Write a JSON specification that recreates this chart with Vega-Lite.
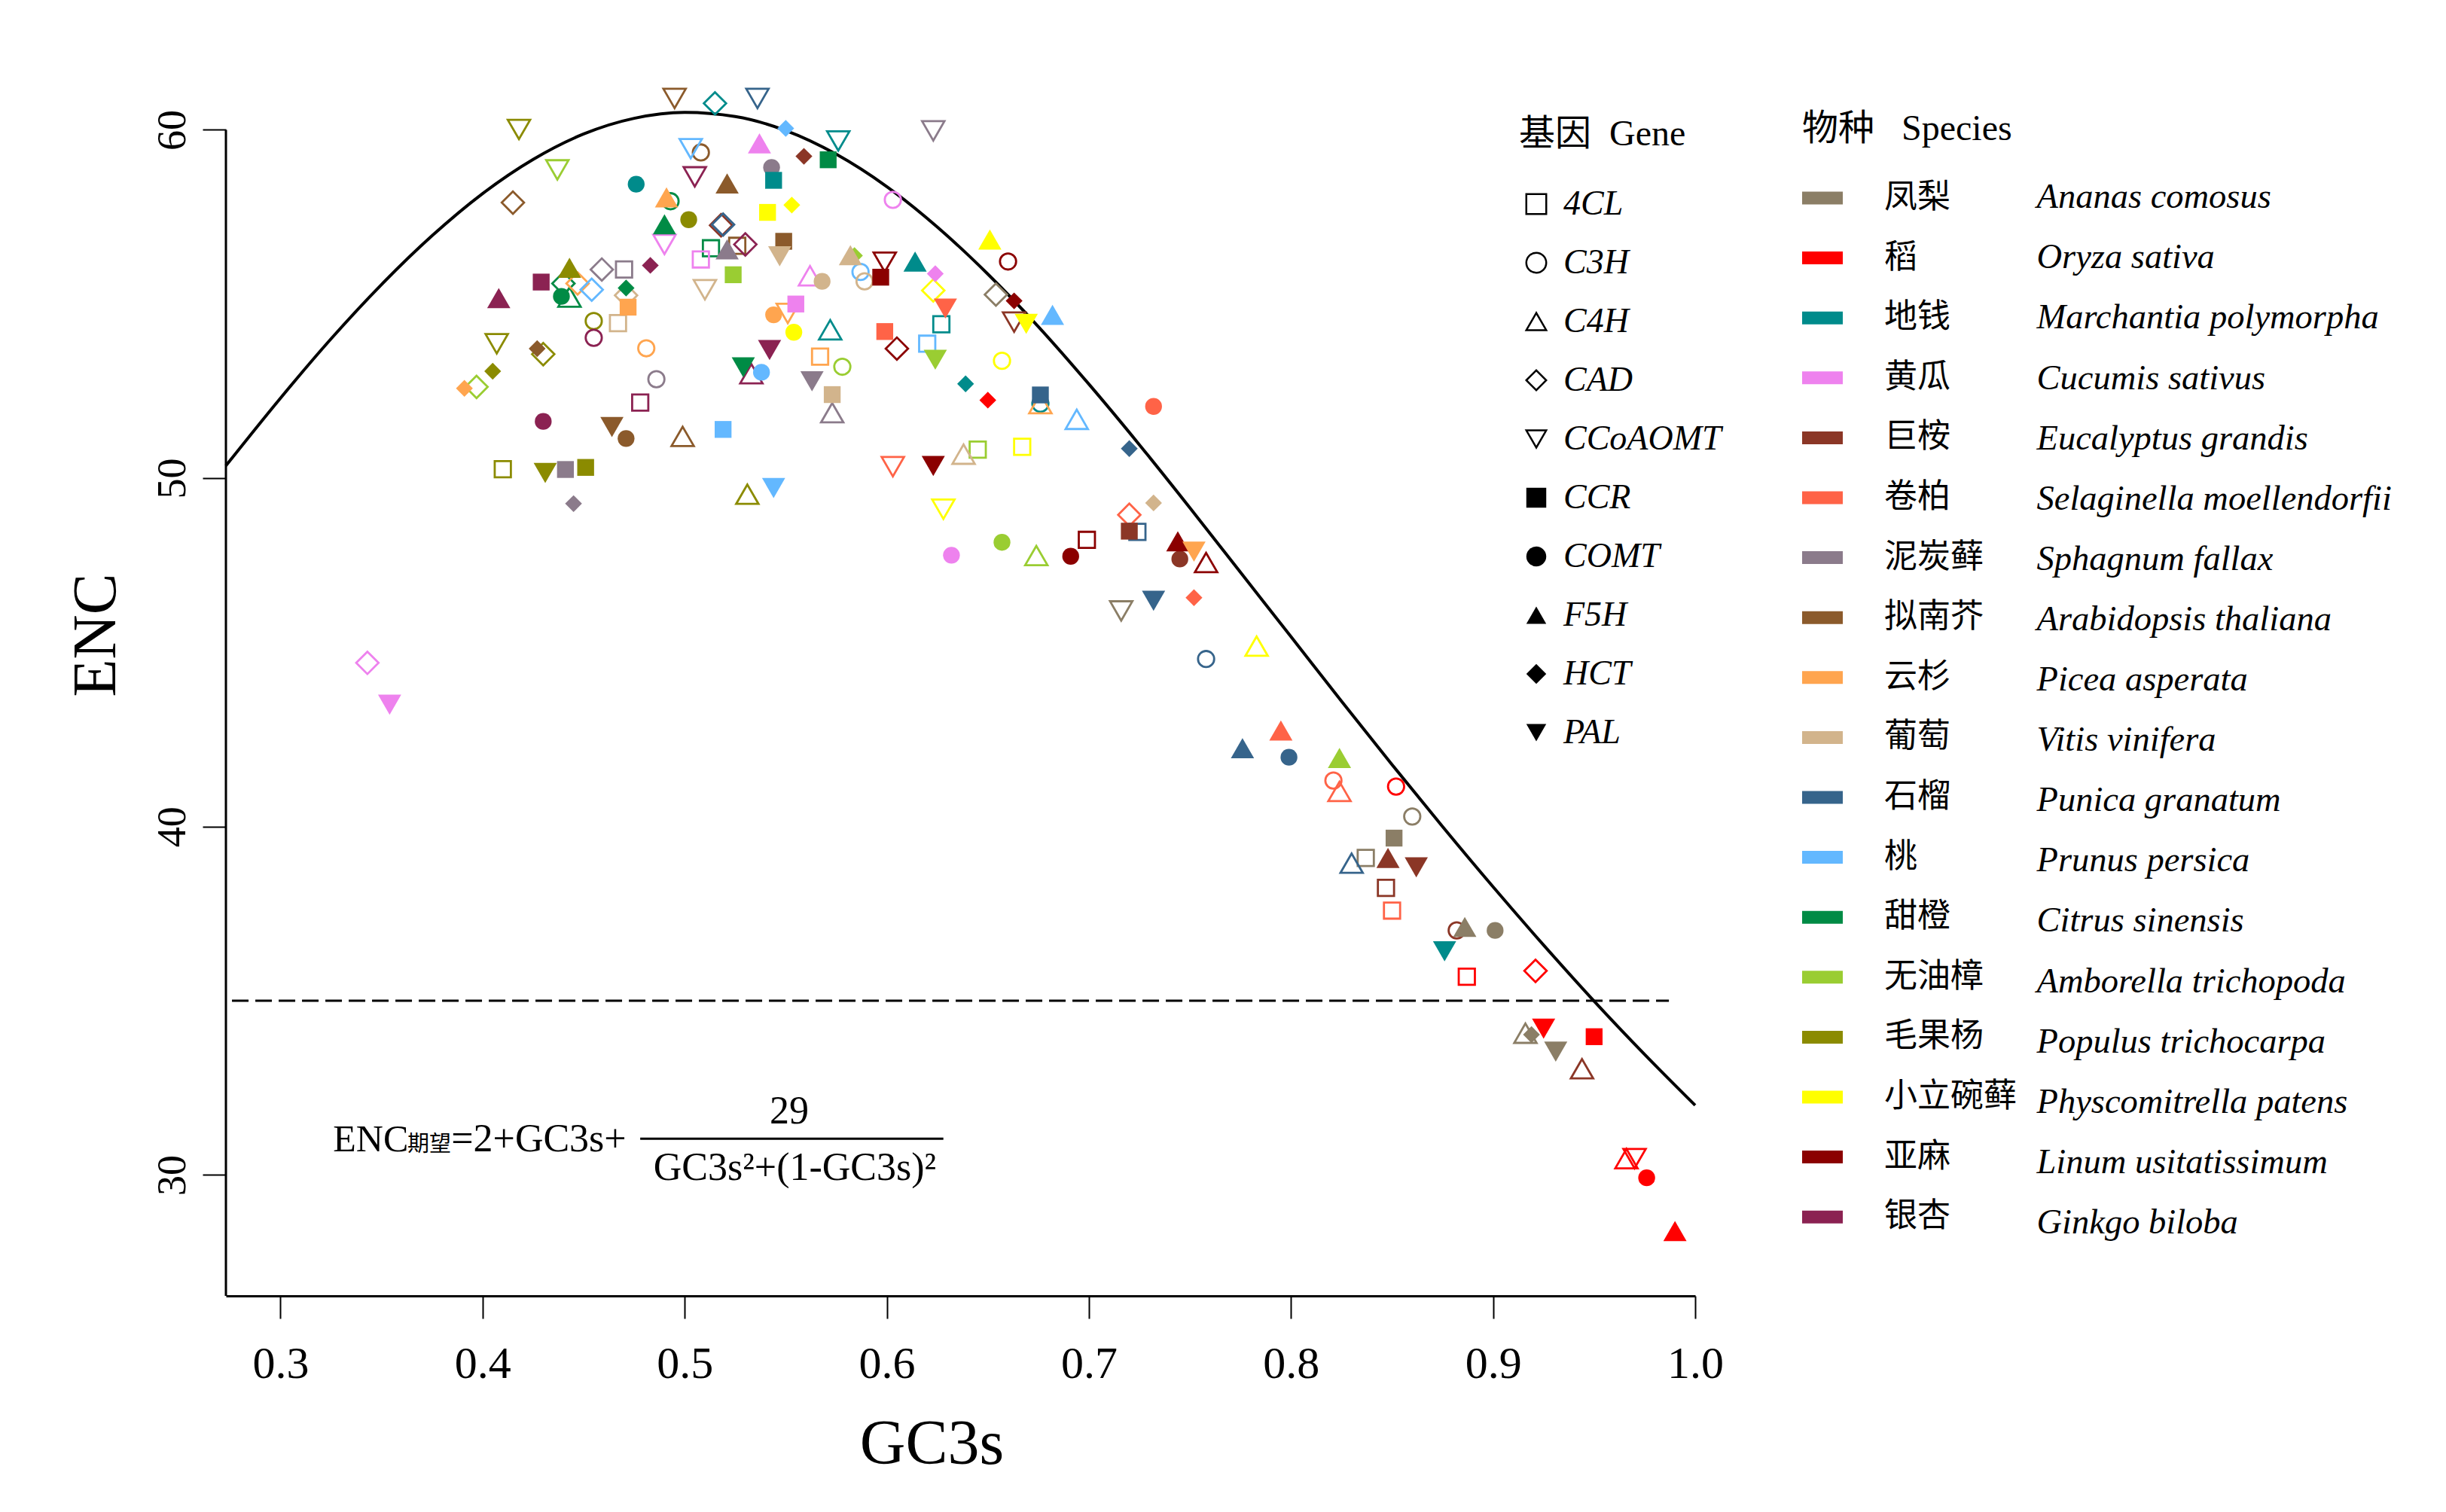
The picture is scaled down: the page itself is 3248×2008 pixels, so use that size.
{
"$schema": "https://vega.github.io/schema/vega-lite/v6.json",
"width": 1951, "height": 1618,
"autosize": {"type": "none"},
"padding": {"left": 300, "top": 103, "right": 997, "bottom": 287},
"background": "white",
"config": {"view": {"stroke": null}, "font": "Liberation Serif", "axis": {"grid": false}},
"resolve": {"scale": {"shape": "independent"}},
"datasets": {
"curve": [
{"x":0.273,"y":50.36},{"x":0.30,"y":52.30},{"x":0.325,"y":54.00},{"x":0.35,"y":55.56},{"x":0.375,"y":56.96},{"x":0.40,"y":58.17},{"x":0.425,"y":59.15},{"x":0.45,"y":59.88},{"x":0.475,"y":60.33},{"x":0.50,"y":60.50},{"x":0.525,"y":60.38},{"x":0.55,"y":59.98},{"x":0.575,"y":59.30},{"x":0.60,"y":58.37},{"x":0.625,"y":57.21},{"x":0.65,"y":55.86},{"x":0.675,"y":54.35},{"x":0.70,"y":52.70},{"x":0.725,"y":50.96},{"x":0.75,"y":49.15},{"x":0.775,"y":47.30},{"x":0.80,"y":45.45},{"x":0.825,"y":43.60},{"x":0.85,"y":41.78},{"x":0.875,"y":40.00},{"x":0.90,"y":38.27},{"x":0.925,"y":36.60},{"x":0.95,"y":34.99},{"x":0.975,"y":33.46},{"x":1.0,"y":32.00}
],
"species": [{"sp":"Ananas comosus","cn":"凤梨"},{"sp":"Oryza sativa","cn":"稻"},{"sp":"Marchantia polymorpha","cn":"地钱"},{"sp":"Cucumis sativus","cn":"黄瓜"},{"sp":"Eucalyptus grandis","cn":"巨桉"},{"sp":"Selaginella moellendorfii","cn":"卷柏"},{"sp":"Sphagnum fallax","cn":"泥炭藓"},{"sp":"Arabidopsis thaliana","cn":"拟南芥"},{"sp":"Picea asperata","cn":"云杉"},{"sp":"Vitis vinifera","cn":"葡萄"},{"sp":"Punica granatum","cn":"石榴"},{"sp":"Prunus persica","cn":"桃"},{"sp":"Citrus sinensis","cn":"甜橙"},{"sp":"Amborella trichopoda","cn":"无油樟"},{"sp":"Populus trichocarpa","cn":"毛果杨"},{"sp":"Physcomitrella patens","cn":"小立碗藓"},{"sp":"Linum usitatissimum","cn":"亚麻"},{"sp":"Ginkgo biloba","cn":"银杏"}],
"points": [
{"g":"CCoAOMT","sp":"Arabidopsis thaliana","x":0.495,"y":60.90},
{"g":"CAD","sp":"Marchantia polymorpha","x":0.515,"y":60.76},
{"g":"CCoAOMT","sp":"Punica granatum","x":0.536,"y":60.90},
{"g":"CCoAOMT","sp":"Populus trichocarpa","x":0.418,"y":60.01},
{"g":"HCT","sp":"Prunus persica","x":0.550,"y":60.04},
{"g":"F5H","sp":"Cucumis sativus","x":0.537,"y":59.61},
{"g":"CCoAOMT","sp":"Marchantia polymorpha","x":0.576,"y":59.68},
{"g":"CCoAOMT","sp":"Prunus persica","x":0.503,"y":59.46},
{"g":"C3H","sp":"Arabidopsis thaliana","x":0.508,"y":59.35},
{"g":"HCT","sp":"Eucalyptus grandis","x":0.559,"y":59.24},
{"g":"CCR","sp":"Citrus sinensis","x":0.571,"y":59.14},
{"g":"CCoAOMT","sp":"Amborella trichopoda","x":0.437,"y":58.85},
{"g":"COMT","sp":"Sphagnum fallax","x":0.543,"y":58.92},
{"g":"CCR","sp":"Marchantia polymorpha","x":0.544,"y":58.55},
{"g":"CCoAOMT","sp":"Ginkgo biloba","x":0.505,"y":58.65},
{"g":"COMT","sp":"Marchantia polymorpha","x":0.476,"y":58.44},
{"g":"F5H","sp":"Arabidopsis thaliana","x":0.521,"y":58.46},
{"g":"F5H","sp":"Picea asperata","x":0.491,"y":58.06},
{"g":"C3H","sp":"Citrus sinensis","x":0.493,"y":57.95},
{"g":"CCR","sp":"Physcomitrella patens","x":0.541,"y":57.63},
{"g":"HCT","sp":"Physcomitrella patens","x":0.553,"y":57.84},
{"g":"CCR","sp":"Arabidopsis thaliana","x":0.549,"y":56.80},
{"g":"PAL","sp":"Vitis vinifera","x":0.547,"y":56.37},
{"g":"COMT","sp":"Populus trichocarpa","x":0.502,"y":57.42},
{"g":"F5H","sp":"Citrus sinensis","x":0.490,"y":57.29},
{"g":"CAD","sp":"Eucalyptus grandis","x":0.518,"y":57.26},
{"g":"CAD","sp":"Punica granatum","x":0.519,"y":57.28},
{"g":"CCoAOMT","sp":"Cucumis sativus","x":0.490,"y":56.71},
{"g":"4CL","sp":"Citrus sinensis","x":0.513,"y":56.60},
{"g":"F5H","sp":"Sphagnum fallax","x":0.521,"y":56.57},
{"g":"4CL","sp":"Arabidopsis thaliana","x":0.526,"y":56.67},
{"g":"CAD","sp":"Ginkgo biloba","x":0.530,"y":56.71},
{"g":"4CL","sp":"Cucumis sativus","x":0.508,"y":56.28},
{"g":"F5H","sp":"Vitis vinifera","x":0.582,"y":56.40},
{"g":"HCT","sp":"Amborella trichopoda","x":0.584,"y":56.39},
{"g":"CCR","sp":"Amborella trichopoda","x":0.524,"y":55.84},
{"g":"F5H","sp":"Populus trichocarpa","x":0.443,"y":56.04},
{"g":"CCR","sp":"Ginkgo biloba","x":0.429,"y":55.63},
{"g":"F5H","sp":"Ginkgo biloba","x":0.408,"y":55.17},
{"g":"CAD","sp":"Citrus sinensis","x":0.440,"y":55.59},
{"g":"COMT","sp":"Citrus sinensis","x":0.439,"y":55.22},
{"g":"C4H","sp":"Citrus sinensis","x":0.443,"y":55.20},
{"g":"CAD","sp":"Picea asperata","x":0.447,"y":55.59},
{"g":"CAD","sp":"Sphagnum fallax","x":0.459,"y":55.99},
{"g":"CAD","sp":"Prunus persica","x":0.454,"y":55.41},
{"g":"4CL","sp":"Sphagnum fallax","x":0.470,"y":55.99},
{"g":"HCT","sp":"Ginkgo biloba","x":0.483,"y":56.11},
{"g":"HCT","sp":"Citrus sinensis","x":0.471,"y":55.46},
{"g":"CAD","sp":"Vitis vinifera","x":0.471,"y":55.25},
{"g":"CCR","sp":"Picea asperata","x":0.472,"y":54.91},
{"g":"CCoAOMT","sp":"Vitis vinifera","x":0.510,"y":55.41},
{"g":"C4H","sp":"Cucumis sativus","x":0.562,"y":55.81},
{"g":"COMT","sp":"Vitis vinifera","x":0.568,"y":55.65},
{"g":"C3H","sp":"Prunus persica","x":0.587,"y":55.92},
{"g":"C3H","sp":"Vitis vinifera","x":0.589,"y":55.65},
{"g":"CCR","sp":"Cucumis sativus","x":0.555,"y":55.00},
{"g":"COMT","sp":"Picea asperata","x":0.544,"y":54.69},
{"g":"CCoAOMT","sp":"Picea asperata","x":0.551,"y":54.73},
{"g":"COMT","sp":"Physcomitrella patens","x":0.554,"y":54.19},
{"g":"C4H","sp":"Marchantia polymorpha","x":0.572,"y":54.26},
{"g":"4CL","sp":"Picea asperata","x":0.567,"y":53.49},
{"g":"C3H","sp":"Amborella trichopoda","x":0.578,"y":53.20},
{"g":"PAL","sp":"Ginkgo biloba","x":0.542,"y":53.68},
{"g":"PAL","sp":"Citrus sinensis","x":0.529,"y":53.18},
{"g":"C4H","sp":"Ginkgo biloba","x":0.533,"y":53.00},
{"g":"COMT","sp":"Prunus persica","x":0.538,"y":53.04},
{"g":"PAL","sp":"Sphagnum fallax","x":0.563,"y":52.78},
{"g":"CCR","sp":"Vitis vinifera","x":0.573,"y":52.40},
{"g":"CCoAOMT","sp":"Populus trichocarpa","x":0.407,"y":53.86},
{"g":"HCT","sp":"Arabidopsis thaliana","x":0.427,"y":53.72},
{"g":"CAD","sp":"Populus trichocarpa","x":0.430,"y":53.56},
{"g":"HCT","sp":"Populus trichocarpa","x":0.405,"y":53.07},
{"g":"C3H","sp":"Populus trichocarpa","x":0.455,"y":54.51},
{"g":"C3H","sp":"Ginkgo biloba","x":0.455,"y":54.03},
{"g":"4CL","sp":"Vitis vinifera","x":0.467,"y":54.45},
{"g":"C3H","sp":"Picea asperata","x":0.481,"y":53.73},
{"g":"C3H","sp":"Sphagnum fallax","x":0.486,"y":52.84},
{"g":"HCT","sp":"Picea asperata","x":0.391,"y":52.58},
{"g":"CAD","sp":"Amborella trichopoda","x":0.397,"y":52.62},
{"g":"CAD","sp":"Arabidopsis thaliana","x":0.415,"y":57.91},
{"g":"CCoAOMT","sp":"Sphagnum fallax","x":0.623,"y":59.97},
{"g":"C3H","sp":"Cucumis sativus","x":0.603,"y":57.99},
{"g":"F5H","sp":"Physcomitrella patens","x":0.651,"y":56.85},
{"g":"C3H","sp":"Linum usitatissimum","x":0.660,"y":56.22},
{"g":"CCoAOMT","sp":"Linum usitatissimum","x":0.599,"y":56.20},
{"g":"CCR","sp":"Linum usitatissimum","x":0.597,"y":55.77},
{"g":"F5H","sp":"Marchantia polymorpha","x":0.614,"y":56.22},
{"g":"HCT","sp":"Cucumis sativus","x":0.624,"y":55.87},
{"g":"CAD","sp":"Physcomitrella patens","x":0.623,"y":55.39},
{"g":"CAD","sp":"Ananas comosus","x":0.654,"y":55.27},
{"g":"HCT","sp":"Linum usitatissimum","x":0.663,"y":55.09},
{"g":"CCoAOMT","sp":"Eucalyptus grandis","x":0.663,"y":54.48},
{"g":"PAL","sp":"Physcomitrella patens","x":0.669,"y":54.43},
{"g":"F5H","sp":"Prunus persica","x":0.682,"y":54.69},
{"g":"PAL","sp":"Selaginella moellendorfii","x":0.629,"y":54.87},
{"g":"4CL","sp":"Marchantia polymorpha","x":0.627,"y":54.42},
{"g":"CCR","sp":"Selaginella moellendorfii","x":0.599,"y":54.21},
{"g":"CAD","sp":"Linum usitatissimum","x":0.605,"y":53.72},
{"g":"4CL","sp":"Prunus persica","x":0.620,"y":53.86},
{"g":"PAL","sp":"Amborella trichopoda","x":0.624,"y":53.40},
{"g":"C3H","sp":"Physcomitrella patens","x":0.657,"y":53.37},
{"g":"HCT","sp":"Marchantia polymorpha","x":0.639,"y":52.71},
{"g":"CCR","sp":"Punica granatum","x":0.676,"y":52.39},
{"g":"HCT","sp":"Oryza sativa","x":0.650,"y":52.24},
{"g":"C3H","sp":"Marchantia polymorpha","x":0.676,"y":52.14},
{"g":"C4H","sp":"Picea asperata","x":0.676,"y":52.14},
{"g":"C4H","sp":"Prunus persica","x":0.694,"y":51.69},
{"g":"COMT","sp":"Selaginella moellendorfii","x":0.732,"y":52.06},
{"g":"HCT","sp":"Punica granatum","x":0.720,"y":50.85},
{"g":"CCoAOMT","sp":"Selaginella moellendorfii","x":0.603,"y":50.33},
{"g":"PAL","sp":"Linum usitatissimum","x":0.623,"y":50.35},
{"g":"C4H","sp":"Vitis vinifera","x":0.638,"y":50.69},
{"g":"4CL","sp":"Amborella trichopoda","x":0.645,"y":50.82},
{"g":"4CL","sp":"Physcomitrella patens","x":0.667,"y":50.90},
{"g":"CCoAOMT","sp":"Physcomitrella patens","x":0.628,"y":49.11},
{"g":"HCT","sp":"Vitis vinifera","x":0.732,"y":49.29},
{"g":"CAD","sp":"Selaginella moellendorfii","x":0.720,"y":48.95},
{"g":"CCR","sp":"Eucalyptus grandis","x":0.720,"y":48.48},
{"g":"4CL","sp":"Punica granatum","x":0.724,"y":48.46},
{"g":"4CL","sp":"Linum usitatissimum","x":0.699,"y":48.23},
{"g":"COMT","sp":"Cucumis sativus","x":0.632,"y":47.79},
{"g":"COMT","sp":"Amborella trichopoda","x":0.657,"y":48.16},
{"g":"C4H","sp":"Amborella trichopoda","x":0.674,"y":47.78},
{"g":"COMT","sp":"Linum usitatissimum","x":0.691,"y":47.76},
{"g":"F5H","sp":"Linum usitatissimum","x":0.744,"y":48.19},
{"g":"PAL","sp":"Picea asperata","x":0.752,"y":47.89},
{"g":"COMT","sp":"Eucalyptus grandis","x":0.745,"y":47.68},
{"g":"C4H","sp":"Linum usitatissimum","x":0.758,"y":47.58},
{"g":"CCoAOMT","sp":"Ananas comosus","x":0.716,"y":46.19},
{"g":"PAL","sp":"Punica granatum","x":0.732,"y":46.48},
{"g":"HCT","sp":"Selaginella moellendorfii","x":0.752,"y":46.57},
{"g":"C3H","sp":"Punica granatum","x":0.758,"y":44.81},
{"g":"C4H","sp":"Physcomitrella patens","x":0.783,"y":45.18},
{"g":"4CL","sp":"Ginkgo biloba","x":0.478,"y":52.17},
{"g":"COMT","sp":"Ginkgo biloba","x":0.430,"y":51.63},
{"g":"PAL","sp":"Arabidopsis thaliana","x":0.464,"y":51.47},
{"g":"COMT","sp":"Arabidopsis thaliana","x":0.471,"y":51.14},
{"g":"C4H","sp":"Arabidopsis thaliana","x":0.499,"y":51.20},
{"g":"CCR","sp":"Prunus persica","x":0.519,"y":51.40},
{"g":"C4H","sp":"Sphagnum fallax","x":0.573,"y":51.88},
{"g":"4CL","sp":"Populus trichocarpa","x":0.410,"y":50.26},
{"g":"PAL","sp":"Populus trichocarpa","x":0.431,"y":50.15},
{"g":"CCR","sp":"Sphagnum fallax","x":0.441,"y":50.25},
{"g":"CCR","sp":"Populus trichocarpa","x":0.451,"y":50.31},
{"g":"HCT","sp":"Sphagnum fallax","x":0.445,"y":49.27},
{"g":"C4H","sp":"Populus trichocarpa","x":0.531,"y":49.54},
{"g":"PAL","sp":"Prunus persica","x":0.544,"y":49.72},
{"g":"CAD","sp":"Cucumis sativus","x":0.343,"y":44.70},
{"g":"PAL","sp":"Cucumis sativus","x":0.354,"y":43.50},
{"g":"F5H","sp":"Selaginella moellendorfii","x":0.795,"y":42.76},
{"g":"F5H","sp":"Punica granatum","x":0.776,"y":42.25},
{"g":"COMT","sp":"Punica granatum","x":0.799,"y":41.99},
{"g":"F5H","sp":"Amborella trichopoda","x":0.824,"y":41.97},
{"g":"C3H","sp":"Selaginella moellendorfii","x":0.821,"y":41.32},
{"g":"C4H","sp":"Selaginella moellendorfii","x":0.824,"y":41.01},
{"g":"C3H","sp":"Oryza sativa","x":0.852,"y":41.15},
{"g":"C3H","sp":"Ananas comosus","x":0.860,"y":40.29},
{"g":"CCR","sp":"Ananas comosus","x":0.851,"y":39.67},
{"g":"C4H","sp":"Punica granatum","x":0.830,"y":38.95},
{"g":"4CL","sp":"Ananas comosus","x":0.837,"y":39.10},
{"g":"F5H","sp":"Eucalyptus grandis","x":0.848,"y":39.10},
{"g":"PAL","sp":"Eucalyptus grandis","x":0.862,"y":38.83},
{"g":"4CL","sp":"Eucalyptus grandis","x":0.847,"y":38.24},
{"g":"4CL","sp":"Selaginella moellendorfii","x":0.850,"y":37.59},
{"g":"F5H","sp":"Ananas comosus","x":0.886,"y":37.12},
{"g":"C3H","sp":"Eucalyptus grandis","x":0.882,"y":37.02},
{"g":"COMT","sp":"Ananas comosus","x":0.901,"y":37.02},
{"g":"PAL","sp":"Marchantia polymorpha","x":0.876,"y":36.42},
{"g":"4CL","sp":"Oryza sativa","x":0.887,"y":35.69},
{"g":"CAD","sp":"Oryza sativa","x":0.921,"y":35.86},
{"g":"C4H","sp":"Ananas comosus","x":0.916,"y":34.07},
{"g":"HCT","sp":"Ananas comosus","x":0.919,"y":34.03},
{"g":"PAL","sp":"Oryza sativa","x":0.925,"y":34.20},
{"g":"PAL","sp":"Ananas comosus","x":0.931,"y":33.54},
{"g":"CCR","sp":"Oryza sativa","x":0.950,"y":33.97},
{"g":"C4H","sp":"Eucalyptus grandis","x":0.944,"y":33.05},
{"g":"C4H","sp":"Oryza sativa","x":0.966,"y":30.47},
{"g":"CCoAOMT","sp":"Oryza sativa","x":0.970,"y":30.47},
{"g":"COMT","sp":"Oryza sativa","x":0.976,"y":29.92},
{"g":"F5H","sp":"Oryza sativa","x":0.990,"y":28.39}
]
},
"layer": [
{
"data": {"name": "curve"},
"mark": {"type": "line", "color": "black", "strokeWidth": 4, "interpolate": "monotone"},
"encoding": {
"x": {"field": "x", "type": "quantitative", "scale": {"domain": [0.273, 1.0], "nice": false, "zero": false},
 "axis": {"title": "GC3s", "values": [0.3,0.4,0.5,0.6,0.7,0.8,0.9,1.0], "format": ".1f", "labelFont": "Liberation Serif", "labelFontSize": 60, "labelColor": "black", "labelBaseline": "alphabetic", "labelPadding": 78, "labelFlush": false, "labelOverlap": false, "tickSize": 30, "tickWidth": 2, "tickColor": "black", "domainColor": "black", "domainWidth": 3, "titleFont": "Liberation Serif", "titleFontSize": 84, "titleFontWeight": "normal", "titleColor": "black", "titleX": 937, "titleY": 222, "titleBaseline": "alphabetic", "titleAlign": "center", "grid": false}},
"y": {"field": "y", "type": "quantitative", "scale": {"domain": [26.53, 61.5], "nice": false, "zero": false},
 "axis": {"title": "ENC", "values": [30,40,50,60], "format": "d", "labelFont": "Liberation Serif", "labelFontSize": 54, "labelColor": "black", "labelAngle": 270, "labelAlign": "center", "labelBaseline": "alphabetic", "labelPadding": 24, "labelFlush": false, "labelOverlap": false, "tickSize": 31, "tickWidth": 2, "tickColor": "black", "domain": false, "titleFont": "Liberation Serif", "titleFontSize": 82, "titleFontWeight": "normal", "titleColor": "black", "titleX": -148, "titleY": 740, "titleAngle": 270, "titleAlign": "center", "titleBaseline": "alphabetic", "grid": false}}
}
},
{
"data": {"values": [{}]},
"mark": {"type": "rule", "color": "black", "strokeWidth": 3},
"encoding": {"x": {"datum": 0.273}, "y": {"datum": 26.53}, "y2": {"datum": 60}}
},
{
"data": {"values": [{}]},
"mark": {"type": "rule", "color": "black", "strokeWidth": 3, "strokeDash": [22, 9]},
"encoding": {"x": {"datum": 0.276}, "x2": {"datum": 0.987}, "y": {"datum": 35}}
},
{
"layer": [
{
"data": {"name": "points"},
"transform": [{"filter": {"field": "g", "oneOf": ["4CL", "C3H"]}}],
"mark": {"type": "point", "filled": false, "opacity": 1, "strokeWidth": 2.8, "size": 460},
"encoding": {
"x": {"field": "x", "type": "quantitative", "title": "GC3s"},
"y": {"field": "y", "type": "quantitative", "title": "ENC"},
"shape": {"field": "g", "type": "nominal", "scale": {"domain": ["4CL","C3H","C4H","CAD","CCoAOMT"], "range": ["square","circle","triangle-up","diamond","triangle-down"]},
 "legend": {"title": "基因\u00a0\u00a0Gene", "orient": "none", "legendX": 1717, "legendY": 52, "direction": "vertical", "padding": 0, "titleFont": "Liberation Serif, Noto Sans CJK SC", "titleFontSize": 48, "titleFontWeight": "normal", "titleColor": "black", "titlePadding": 45, "titleLimit": 800, "labelFont": "Liberation Serif", "labelFontStyle": "italic", "labelFontSize": 46, "labelColor": "black", "labelOffset": 13, "labelLimit": 800, "rowPadding": 32, "symbolSize": 700, "symbolStrokeColor": "black", "symbolFillColor": "transparent", "symbolStrokeWidth": 2.5, "symbolOpacity": 1}},
"stroke": {"field": "sp", "type": "nominal", "scale": {"domain": ["Ananas comosus","Oryza sativa","Marchantia polymorpha","Cucumis sativus","Eucalyptus grandis","Selaginella moellendorfii","Sphagnum fallax","Arabidopsis thaliana","Picea asperata","Vitis vinifera","Punica granatum","Prunus persica","Citrus sinensis","Amborella trichopoda","Populus trichocarpa","Physcomitrella patens","Linum usitatissimum","Ginkgo biloba"], "range": ["#8B7E66","#FF0000","#008B8B","#EE82EE","#8B3626","#FF6347","#8B7B8B","#8B5A2B","#FFA54F","#D2B48C","#36648B","#63B8FF","#008B45","#9ACD32","#8B8B00","#FFFF00","#8B0000","#8B2252"]},
 "legend": {"title": null, "orient": "none", "legendX": 2358, "legendY": 136, "direction": "vertical", "padding": 0, "symbolSize": 1, "symbolOpacity": 0, "symbolStrokeWidth": 0, "labelFont": "Liberation Serif", "labelFontStyle": "italic", "labelFontSize": 46.5, "labelColor": "black", "labelOffset": 0, "labelLimit": 900, "rowPadding": 33.1}}
}
},
{
"data": {"name": "points"},
"transform": [{"filter": {"field": "g", "oneOf": ["C4H", "CAD", "CCoAOMT"]}}],
"mark": {"type": "point", "filled": false, "opacity": 1, "strokeWidth": 2.8, "size": 880},
"encoding": {
"x": {"field": "x", "type": "quantitative", "title": "GC3s"},
"y": {"field": "y", "type": "quantitative", "title": "ENC"},
"shape": {"field": "g", "type": "nominal"},
"stroke": {"field": "sp", "type": "nominal"}
}
}
]
},
{
"layer": [
{
"data": {"name": "points"},
"transform": [{"filter": {"field": "g", "oneOf": ["CCR", "COMT", "HCT"]}}, {"lookup": "sp", "from": {"data": {"name": "species"}, "key": "sp", "fields": ["cn"]}}],
"mark": {"type": "point", "filled": true, "opacity": 1, "size": 500},
"encoding": {
"x": {"field": "x", "type": "quantitative", "title": "GC3s"},
"y": {"field": "y", "type": "quantitative", "title": "ENC"},
"shape": {"field": "g", "type": "nominal", "scale": {"domain": ["CCR","COMT","F5H","HCT","PAL"], "range": ["square","circle","triangle-up","diamond","triangle-down"]},
 "legend": {"title": null, "orient": "none", "legendX": 1717, "legendY": 535, "direction": "vertical", "padding": 0, "labelFont": "Liberation Serif", "labelFontStyle": "italic", "labelFontSize": 46, "labelColor": "black", "labelOffset": 13, "labelLimit": 800, "rowPadding": 32, "symbolSize": 700, "symbolStrokeColor": "black", "symbolFillColor": "black", "symbolStrokeWidth": 2.5, "symbolOpacity": 1}},
"fill": {"field": "cn", "type": "nominal", "scale": {"domain": ["凤梨","稻","地钱","黄瓜","巨桉","卷柏","泥炭藓","拟南芥","云杉","葡萄","石榴","桃","甜橙","无油樟","毛果杨","小立碗藓","亚麻","银杏"], "range": ["#8B7E66","#FF0000","#008B8B","#EE82EE","#8B3626","#FF6347","#8B7B8B","#8B5A2B","#FFA54F","#D2B48C","#36648B","#63B8FF","#008B45","#9ACD32","#8B8B00","#FFFF00","#8B0000","#8B2252"]},
 "legend": {"title": "物种\u00a0\u00a0\u00a0Species", "orient": "none", "legendX": 2093, "legendY": 45, "direction": "vertical", "padding": 0, "titleFont": "Liberation Serif, Noto Sans CJK SC", "titleFontSize": 48, "titleFontWeight": "normal", "titleColor": "black", "titlePadding": 40, "titleLimit": 800, "symbolType": "M-1,-0.315H1V0.315H-1Z", "symbolSize": 2916, "symbolStrokeWidth": 0, "symbolOpacity": 1, "labelFont": "Noto Sans CJK SC", "labelFontSize": 44, "labelColor": "black", "labelOffset": 55, "labelLimit": 800, "rowPadding": 30.6}}
}
},
{
"data": {"name": "points"},
"transform": [{"filter": {"field": "g", "oneOf": ["F5H", "PAL"]}}, {"lookup": "sp", "from": {"data": {"name": "species"}, "key": "sp", "fields": ["cn"]}}],
"mark": {"type": "point", "filled": true, "opacity": 1, "size": 950},
"encoding": {
"x": {"field": "x", "type": "quantitative", "title": "GC3s"},
"y": {"field": "y", "type": "quantitative", "title": "ENC"},
"shape": {"field": "g", "type": "nominal"},
"fill": {"field": "cn", "type": "nominal"}
}
}
]
},
{
"data": {"values": [{}]},
"mark": {"type": "rule", "color": "black", "strokeWidth": 3},
"encoding": {"x": {"datum": 0.478}, "x2": {"datum": 0.628}, "y": {"datum": 31.04}}
},
{
"data": {"values": [{"t": "ENC"}]},
"mark": {"type": "text", "align": "left", "baseline": "alphabetic", "font": "Liberation Serif", "fontSize": 50, "color": "black"},
"encoding": {"x": {"datum": 0.326}, "y": {"datum": 30.67}, "text": {"field": "t"}}
},
{
"data": {"values": [{"t": "期望"}]},
"mark": {"type": "text", "align": "left", "baseline": "alphabetic", "font": "Noto Sans CJK SC", "fontSize": 29, "color": "black"},
"encoding": {"x": {"datum": 0.3628}, "y": {"datum": 30.67}, "text": {"field": "t"}}
},
{
"data": {"values": [{"t": "=2+GC3s+"}]},
"mark": {"type": "text", "align": "left", "baseline": "alphabetic", "font": "Liberation Serif", "fontSize": 52, "color": "black"},
"encoding": {"x": {"datum": 0.3845}, "y": {"datum": 30.67}, "text": {"field": "t"}}
},
{
"data": {"values": [{"t": "29"}]},
"mark": {"type": "text", "align": "center", "baseline": "alphabetic", "font": "Liberation Serif", "fontSize": 52, "color": "black"},
"encoding": {"x": {"datum": 0.5517}, "y": {"datum": 31.47}, "text": {"field": "t"}}
},
{
"data": {"values": [{"t": "GC3s²+(1-GC3s)²"}]},
"mark": {"type": "text", "align": "center", "baseline": "alphabetic", "font": "Liberation Serif", "fontSize": 52, "color": "black"},
"encoding": {"x": {"datum": 0.5545}, "y": {"datum": 29.85}, "text": {"field": "t"}}
}
]
}
